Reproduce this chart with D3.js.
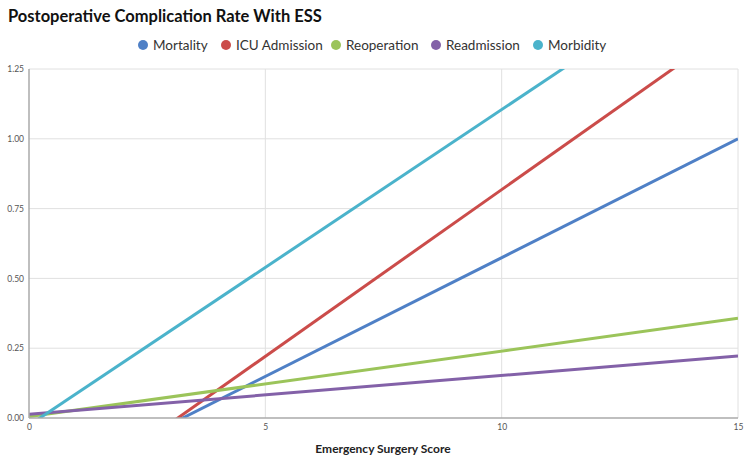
<!DOCTYPE html>
<html><head><meta charset="utf-8">
<script src="https://cdn.jsdelivr.net/npm/d3@7"></script>
<style>body{margin:0;background:#fff;font-family:Lato,"Open Sans",sans-serif;}</style>
</head><body><svg id="c" width="750" height="462"></svg>
<script>
const ess = [0, 15];
const seriesNames = ["Mortality", "ICU Admission", "Reoperation", "Readmission", "Morbidity"];
const mortality = [-0.277, 1.0];
const icuAdmission = [-0.376, 1.415];
const reoperation = [0.005, 0.357];
const readmission = [0.013, 0.222];
const morbidity = [-0.026, 1.67];
const colors = ["#4f80c6", "#cb4c4a", "#9bc45a", "#8361a8", "#4bb3cb"];
const xTicks = [0, 5, 10, 15];
const yTicks = [0, 0.25, 0.5, 0.75, 1.0, 1.25];

const seriesValues = [mortality, icuAdmission, reoperation, readmission, morbidity];
const svg = d3.select("#c");
const L = 29, R = 738, T = 69, B = 418;
const x = d3.scaleLinear().domain([0, 15]).range([L, R]);
const y = d3.scaleLinear().domain([0, 1.25]).range([B, T]);

svg.append("text").attr("x", 8).attr("y", 22).attr("font-size", 16.5).attr("font-weight", 700)
  .attr("fill", "#111").text("Postoperative Complication Rate With ESS");

// grid
const g = svg.append("g");
g.selectAll(".gy").data(yTicks.slice(1)).join("line").attr("x1", L).attr("x2", R)
  .attr("y1", d => y(d)).attr("y2", d => y(d)).attr("stroke", "#e0e0e0").attr("stroke-width", 1);
g.selectAll(".gx").data(xTicks.slice(1)).join("line").attr("y1", T).attr("y2", B)
  .attr("x1", d => x(d)).attr("x2", d => x(d)).attr("stroke", "#e0e0e0").attr("stroke-width", 1);

// axes
const ya = svg.append("g").attr("transform", `translate(${L},0)`)
  .call(d3.axisLeft(y).tickValues(yTicks).tickFormat(d3.format(".2f")).tickSize(0).tickPadding(5));
ya.select(".domain").remove();
ya.selectAll("text").attr("font-size", 8.5).attr("fill", "#555").attr("font-family", "Lato, sans-serif");
const xa = svg.append("g").attr("transform", `translate(0,${B})`)
  .call(d3.axisBottom(x).tickValues(xTicks).tickFormat(d3.format("d")).tickSize(0).tickPadding(6));
xa.select(".domain").remove();
xa.selectAll("text").attr("font-size", 8.5).attr("fill", "#555").attr("font-family", "Lato, sans-serif");

// clip
svg.append("clipPath").attr("id", "clip").append("rect").attr("x", L).attr("y", T).attr("width", R - L).attr("height", B - T);
const line = d3.line().x((d, i) => x(ess[i])).y(d => y(d));
svg.append("g").attr("clip-path", "url(#clip)").selectAll("path").data(seriesValues).join("path")
  .attr("d", d => line(d)).attr("fill", "none").attr("stroke", (d, i) => colors[i]).attr("stroke-width", 3);

svg.append("line").attr("x1", L).attr("x2", L).attr("y1", T).attr("y2", B).attr("stroke", "#aaa").attr("stroke-width", 1.5);
svg.append("line").attr("x1", L).attr("x2", R).attr("y1", B).attr("y2", B).attr("stroke", "#aaa").attr("stroke-width", 1.5);

svg.append("text").attr("x", 383).attr("y", 453).attr("text-anchor", "middle").attr("font-size", 12)
  .attr("font-weight", 700).attr("fill", "#222").text("Emergency Surgery Score");

// legend
const leg = svg.append("g");
const legX = [143, 226, 336, 436, 538];
seriesNames.forEach((n, i) => {
  leg.append("circle").attr("cx", legX[i]).attr("cy", 45).attr("r", 5).attr("fill", colors[i]);
  leg.append("text").attr("x", legX[i] + 10).attr("y", 50).attr("font-size", 13.5).attr("fill", "#333").text(n);
});
</script></body></html>
